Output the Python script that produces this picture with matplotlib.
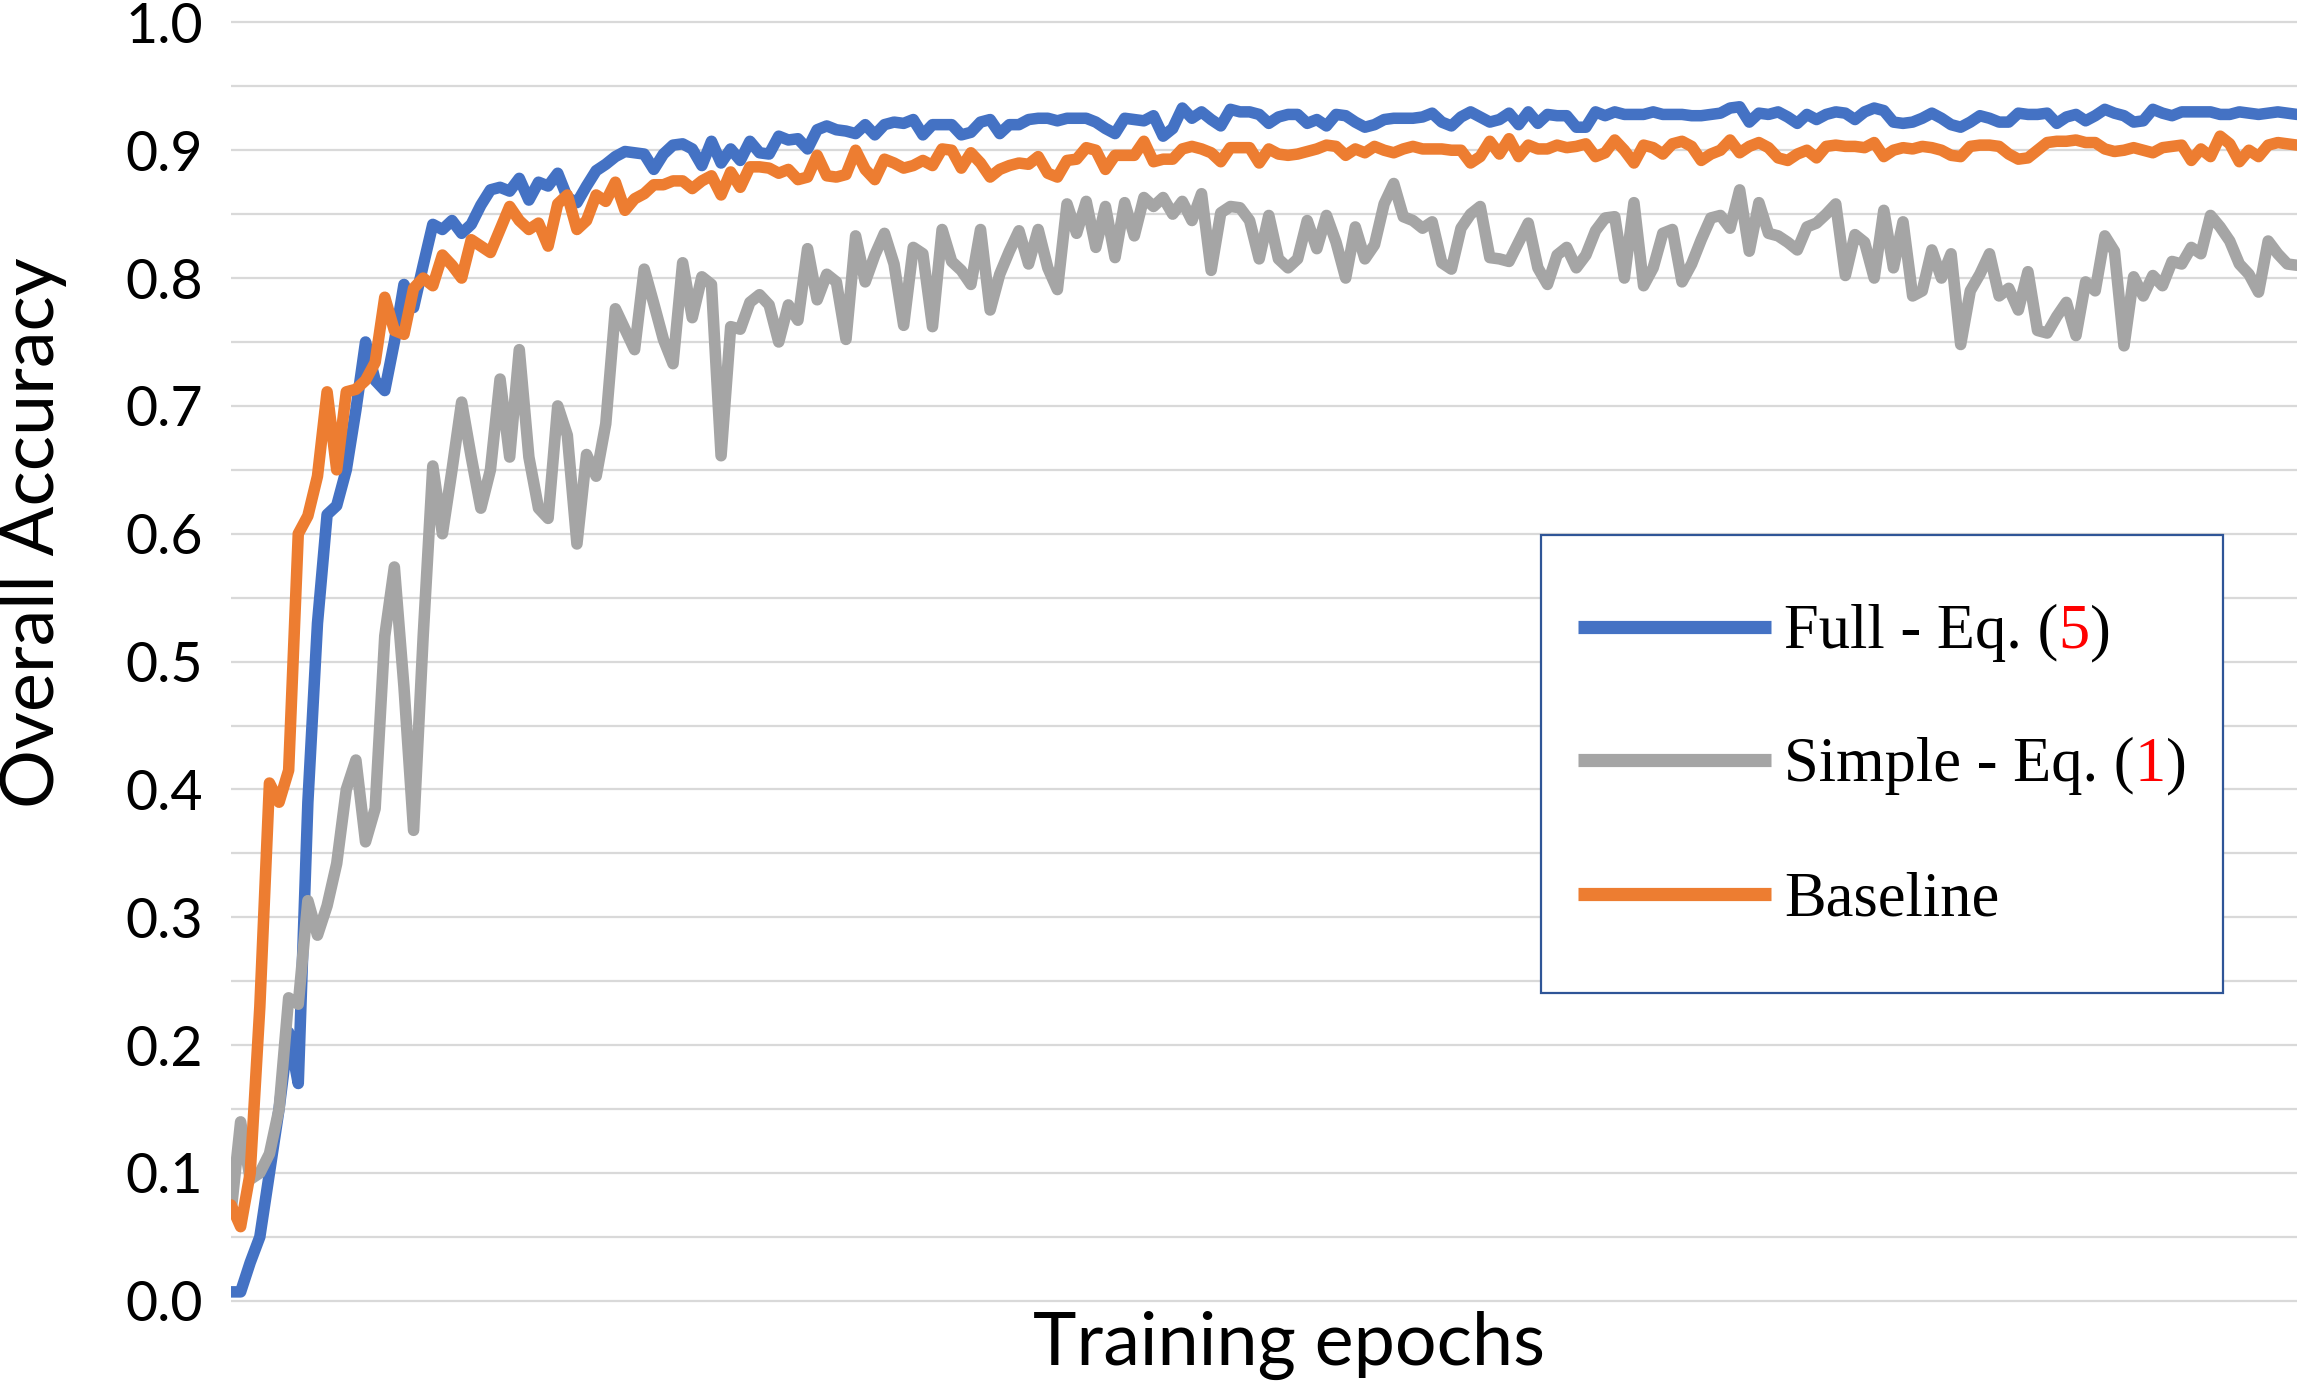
import matplotlib
matplotlib.use("Agg")
import matplotlib.pyplot as plt
from matplotlib.lines import Line2D
from matplotlib.patches import Rectangle
from matplotlib.text import Annotation
import numpy as np

plt.rcParams['font.family'] = ['Lato', 'DejaVu Sans']

# ---------------- data ----------------
full = [
    0.007, 0.007, 0.030, 0.050, 0.100, 0.150, 0.210, 0.170, 0.390, 0.530,
    0.615, 0.622, 0.650, 0.697, 0.750, 0.720, 0.712, 0.750, 0.795, 0.777,
    0.810, 0.842, 0.838, 0.845, 0.835, 0.842, 0.857, 0.869, 0.871, 0.868,
    0.878, 0.861, 0.875, 0.872, 0.882, 0.863, 0.859, 0.872, 0.884, 0.889,
    0.895, 0.899, 0.898, 0.897, 0.885, 0.897, 0.904,
    0.905, 0.901, 0.888, 0.907, 0.890, 0.901, 0.892, 0.907, 0.898, 0.897,
    0.911, 0.908, 0.909, 0.901, 0.916, 0.919, 0.916, 0.915, 0.913, 0.920,
    0.912, 0.920, 0.922, 0.921, 0.924, 0.912, 0.920, 0.920, 0.920, 0.912,
    0.914, 0.922, 0.924, 0.913, 0.920, 0.920, 0.924, 0.925, 0.925, 0.923,
    0.925, 0.925, 0.925, 0.922, 0.917, 0.913, 0.925, 0.924, 0.923, 0.927,
    0.911, 0.917, 0.933, 0.925, 0.930, 0.924, 0.919, 0.932,
    0.930, 0.930, 0.928, 0.921, 0.926, 0.928, 0.928, 0.921, 0.924, 0.919,
    0.928, 0.927, 0.922, 0.918, 0.920, 0.924, 0.925, 0.925, 0.925, 0.926,
    0.929, 0.922, 0.919, 0.926, 0.930, 0.926, 0.922, 0.924, 0.929, 0.920,
    0.930, 0.921, 0.928, 0.927, 0.927, 0.918, 0.918, 0.930, 0.927, 0.930,
    0.928, 0.928, 0.928, 0.930, 0.928, 0.928, 0.928, 0.927, 0.927, 0.928,
    0.929, 0.933, 0.934, 0.922, 0.929, 0.928,
    0.930, 0.926, 0.921, 0.928, 0.924, 0.928, 0.930, 0.929, 0.924, 0.930,
    0.933, 0.931, 0.922, 0.921, 0.922, 0.925, 0.929, 0.925, 0.920, 0.918,
    0.922, 0.927, 0.925, 0.922, 0.922, 0.929, 0.928, 0.928, 0.929, 0.921,
    0.926, 0.928, 0.923, 0.927, 0.932, 0.929, 0.927, 0.922, 0.923, 0.932,
    0.929, 0.927, 0.930, 0.930, 0.930, 0.930, 0.928, 0.928, 0.930, 0.929,
    0.928, 0.929, 0.930, 0.929, 0.928,
]

simple = [
    0.069, 0.140, 0.095, 0.100, 0.115, 0.150, 0.237, 0.232, 0.313, 0.286,
    0.309, 0.342, 0.400, 0.423, 0.359, 0.385, 0.520, 0.574, 0.480, 0.368,
    0.520, 0.653, 0.600, 0.650, 0.703, 0.660, 0.620, 0.650, 0.721, 0.660,
    0.744, 0.660, 0.620, 0.612, 0.700, 0.677, 0.592, 0.662, 0.645, 0.686,
    0.776, 0.760, 0.744, 0.807, 0.780, 0.752, 0.733,
    0.812, 0.769, 0.801, 0.795, 0.661, 0.762, 0.760, 0.781, 0.787, 0.779,
    0.750, 0.779, 0.767, 0.823, 0.783, 0.803, 0.797, 0.752, 0.833, 0.797,
    0.818, 0.835, 0.811, 0.763, 0.824, 0.819, 0.762, 0.838, 0.813, 0.806,
    0.795, 0.838, 0.775, 0.803, 0.821, 0.837, 0.811, 0.838, 0.808, 0.791,
    0.858, 0.835, 0.860, 0.824, 0.856, 0.816, 0.859, 0.833, 0.863, 0.856,
    0.863, 0.850, 0.860, 0.845, 0.866, 0.806, 0.851, 0.856,
    0.855, 0.845, 0.815, 0.849, 0.815, 0.808, 0.815, 0.845, 0.823, 0.849,
    0.828, 0.800, 0.840, 0.815, 0.826, 0.858, 0.874, 0.848, 0.845, 0.839,
    0.844, 0.812, 0.807, 0.839, 0.850, 0.856, 0.816, 0.815, 0.813, 0.828,
    0.843, 0.808, 0.795, 0.818, 0.824, 0.808, 0.818, 0.837, 0.847, 0.848,
    0.800, 0.859, 0.794, 0.808, 0.835, 0.838, 0.797, 0.811, 0.830, 0.847,
    0.849, 0.839, 0.869, 0.821, 0.859, 0.835,
    0.833, 0.828, 0.822, 0.840, 0.843, 0.850, 0.858, 0.802, 0.834, 0.828,
    0.800, 0.853, 0.808, 0.844, 0.786, 0.790, 0.822, 0.800, 0.819, 0.748,
    0.790, 0.803, 0.819, 0.786, 0.792, 0.775, 0.805, 0.759, 0.757, 0.770,
    0.781, 0.755, 0.797, 0.790, 0.833, 0.821, 0.747, 0.801, 0.786, 0.802,
    0.794, 0.813, 0.811, 0.824, 0.819, 0.849, 0.840, 0.829, 0.811, 0.803,
    0.789, 0.829, 0.819, 0.811, 0.810,
]

baseline = [
    0.075, 0.058, 0.100, 0.230, 0.405, 0.390, 0.415, 0.600, 0.614, 0.645,
    0.711, 0.650, 0.711, 0.713, 0.720, 0.734, 0.785, 0.759, 0.756, 0.792,
    0.800, 0.794, 0.818, 0.810, 0.800, 0.830, 0.825, 0.820, 0.838, 0.856,
    0.845, 0.838, 0.843, 0.825, 0.858, 0.865, 0.838, 0.845, 0.865, 0.860,
    0.875, 0.853, 0.862, 0.866, 0.873, 0.873, 0.876,
    0.876, 0.870, 0.876, 0.880, 0.865, 0.883, 0.871, 0.887, 0.887, 0.886,
    0.882, 0.885, 0.877, 0.879, 0.896, 0.880, 0.879, 0.881, 0.900, 0.885,
    0.877, 0.893, 0.890, 0.886, 0.888, 0.892, 0.888, 0.901, 0.900, 0.886,
    0.898, 0.890, 0.879, 0.885, 0.888, 0.890, 0.889, 0.895, 0.882, 0.879,
    0.892, 0.893, 0.902, 0.900, 0.885, 0.896, 0.896, 0.896, 0.907, 0.891,
    0.893, 0.893, 0.901, 0.903, 0.901, 0.898, 0.891, 0.902,
    0.902, 0.902, 0.890, 0.901, 0.897, 0.896, 0.897, 0.899, 0.901, 0.904,
    0.903, 0.896, 0.901, 0.898, 0.903, 0.900, 0.898, 0.901, 0.903, 0.901,
    0.901, 0.901, 0.900, 0.900, 0.890, 0.895, 0.907, 0.897, 0.909, 0.895,
    0.904, 0.901, 0.901, 0.904, 0.902, 0.903, 0.905, 0.895, 0.898, 0.908,
    0.900, 0.890, 0.904, 0.902, 0.897, 0.905, 0.907, 0.903, 0.892, 0.897,
    0.900, 0.908, 0.898, 0.903, 0.906, 0.902,
    0.894, 0.892, 0.897, 0.900, 0.894, 0.903, 0.904, 0.903, 0.903, 0.902,
    0.906, 0.895, 0.900, 0.902, 0.901, 0.903, 0.902, 0.900, 0.896, 0.895,
    0.903, 0.904, 0.904, 0.903, 0.897, 0.893, 0.894, 0.900, 0.906, 0.907,
    0.907, 0.908, 0.906, 0.906, 0.901, 0.899, 0.900, 0.902, 0.900, 0.898,
    0.902, 0.903, 0.904, 0.892, 0.901, 0.895, 0.911, 0.905, 0.891, 0.900,
    0.895, 0.904, 0.906, 0.905, 0.904,
]

epochs = np.arange(len(full))
ytick_values = [0.0, 0.1, 0.2, 0.3, 0.4, 0.5, 0.6, 0.7, 0.8, 0.9, 1.0]
ytick_labels = ["0.0", "0.1", "0.2", "0.3", "0.4", "0.5", "0.6", "0.7", "0.8", "0.9", "1.0"]
series_names = ["Full - Eq. (", "Simple - Eq. (", "Baseline"]
series_refs = ["5", "1", ""]
colors = ["#4472C4", "#A5A5A5", "#ED7D31"]

# ---------------- figure ----------------
W, H = 2297, 1387
fig = plt.figure(figsize=(W / 100, H / 100), dpi=100)
ax = fig.add_axes([231 / W, 0.05292, 1 - 231 / W, 0.94016])

ax.set_xlim(0, len(full) - 1)
ax.set_ylim(-0.01, 1.01)

ax.set_yticks(ytick_values)
ax.set_yticklabels(ytick_labels)
ax.set_yticks(np.arange(0.05, 1.0, 0.1), minor=True)
ax.set_xticks([])
ax.tick_params(axis='y', which='both', length=0, pad=20, labelsize=40, labelcolor='black')
ax.grid(axis='y', which='both', color='#D9D9D9', linewidth=1.6)
ax.set_axisbelow(True)
for s in ax.spines.values():
    s.set_visible(False)

for data, c in zip([full, simple, baseline], colors):
    ax.plot(epochs, data, color=c, linewidth=8.3, solid_joinstyle='round',
            solid_capstyle='round', zorder=3)

ax.set_xlabel("Training epochs", fontsize=53, va='top')
ax.xaxis.set_label_coords(0.512, 0.002)
ax.set_ylabel("Overall Accuracy", fontsize=53, va='center')
ax.yaxis.set_label_coords(-0.0955, 0.5986)

# ---------------- legend ----------------
x0, x1 = 1541 / W, 2223 / W
y0, y1 = (H - 993) / H, (H - 535) / H
fig.add_artist(Rectangle((x0, y0), x1 - x0, y1 - y0, transform=fig.transFigure,
                         facecolor='white', edgecolor='#2F5597', linewidth=1.6, zorder=5))
row_y = [627, 760, 894]
for name, ref, c, yc in zip(series_names, series_refs, colors, row_y):
    yf = (H - yc) / H
    fig.add_artist(Line2D([1578 / W, 1771 / W], [yf, yf], transform=fig.transFigure,
                          color=c, linewidth=9.5, solid_capstyle='butt', zorder=6))
    t1 = fig.text(1784 / W, (H - yc - 21) / H, name, fontsize=45,
                  family=['Liberation Serif', 'DejaVu Serif'], va='baseline', ha='left', zorder=7)
    if ref:
        t2 = Annotation(ref, xy=(1, 0), xycoords=t1, va='bottom', ha='left', color='red',
                        fontsize=45, family=['Liberation Serif', 'DejaVu Serif'], zorder=7)
        fig.add_artist(t2)
        t3 = Annotation(")", xy=(1, 0), xycoords=t2, va='bottom', ha='left', color='black',
                        fontsize=45, family=['Liberation Serif', 'DejaVu Serif'], zorder=7)
        fig.add_artist(t3)

fig.savefig("out.png", dpi=100)
